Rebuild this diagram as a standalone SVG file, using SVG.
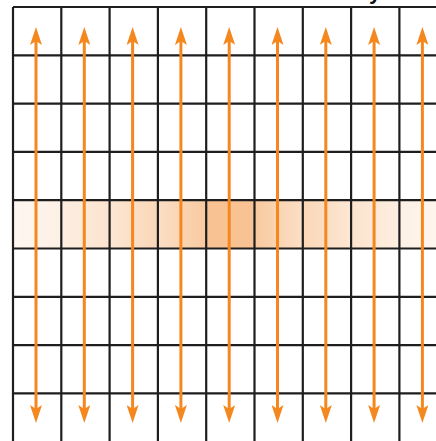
<svg xmlns="http://www.w3.org/2000/svg" width="436" height="441" viewBox="0 0 436 441">
<style>
.grid{stroke:#1e1e1e;stroke-width:2.2;fill:none}
.arr{stroke:#F5871F;stroke-width:3;fill:none;marker-start:url(#ah);marker-end:url(#ah)}
.t{font-family:"Liberation Sans",Arial,sans-serif;font-weight:bold;font-size:22px;fill:#111}
</style>
<defs>
<linearGradient id="gUp" x1="0" y1="0" x2="1" y2="0">
<stop offset="0" stop-color="#F39A4A" stop-opacity="0.6"/>
<stop offset="1" stop-color="#F39A4A" stop-opacity="1"/>
</linearGradient>
<linearGradient id="gDn" x1="0" y1="0" x2="1" y2="0">
<stop offset="0" stop-color="#F39A4A" stop-opacity="1"/>
<stop offset="1" stop-color="#F39A4A" stop-opacity="0.6"/>
</linearGradient>
<marker id="ah" viewBox="0 0 18 12" refX="4" refY="6" markerWidth="18" markerHeight="12" markerUnits="userSpaceOnUse" orient="auto-start-reverse">
<path d="M0,0 L18,6 L0,12 L4,6 Z" fill="#F5871F"/>
</marker>
</defs>
<rect width="436" height="441" fill="#fff"/>
<text class="t" x="369" y="-1">y</text>
<g id="band">
<rect x="13" y="200" width="48.3" height="48.3" fill="url(#gUp)" fill-opacity="0.14"/>
<rect x="61.3" y="200" width="48.3" height="48.3" fill="url(#gUp)" fill-opacity="0.27"/>
<rect x="109.6" y="200" width="48.3" height="48.3" fill="url(#gUp)" fill-opacity="0.4"/>
<rect x="157.9" y="200" width="48.3" height="48.3" fill="url(#gUp)" fill-opacity="0.53"/>
<rect x="206.2" y="200" width="48.3" height="48.3" fill="#F39A4A" fill-opacity="0.6"/>
<rect x="254.5" y="200" width="48.3" height="48.3" fill="url(#gDn)" fill-opacity="0.53"/>
<rect x="302.8" y="200" width="48.3" height="48.3" fill="url(#gDn)" fill-opacity="0.4"/>
<rect x="351.1" y="200" width="48.3" height="48.3" fill="url(#gDn)" fill-opacity="0.27"/>
<rect x="399.4" y="200" width="48.3" height="48.3" fill="url(#gDn)" fill-opacity="0.14"/>
</g>
<g id="grid" class="grid">
<path d="M13,7V442M61.3,7V442M109.6,7V442M157.9,7V442M206.2,7V442M254.5,7V442M302.8,7V442M351.1,7V442M399.4,7V442"/>
<path d="M13,7H437M13,55.3H437M13,103.6H437M13,151.9H437M13,200.2H437M13,248.5H437M13,296.8H437M13,345.1H437M13,393.4H437"/>
</g>
<g id="connectors">
<line class="arr" x1="36" y1="41" x2="36" y2="409"/>
<line class="arr" x1="84.3" y1="41" x2="84.3" y2="409"/>
<line class="arr" x1="132.6" y1="41" x2="132.6" y2="409"/>
<line class="arr" x1="180.9" y1="41" x2="180.9" y2="409"/>
<line class="arr" x1="229.2" y1="41" x2="229.2" y2="409"/>
<line class="arr" x1="277.5" y1="41" x2="277.5" y2="409"/>
<line class="arr" x1="325.8" y1="41" x2="325.8" y2="409"/>
<line class="arr" x1="374.1" y1="41" x2="374.1" y2="409"/>
<line class="arr" x1="422.4" y1="41" x2="422.4" y2="409"/>
</g>
</svg>
